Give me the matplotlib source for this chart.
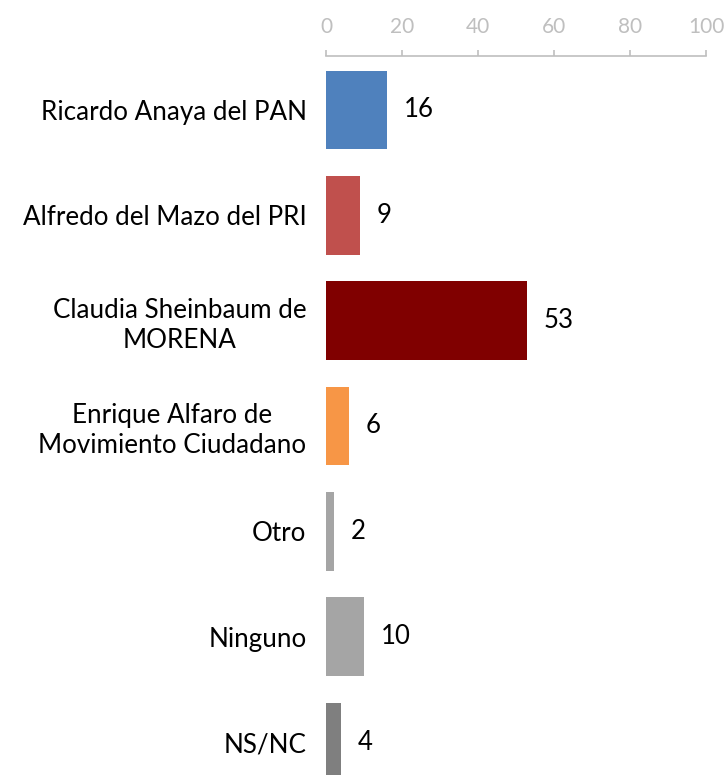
import matplotlib
matplotlib.use("Agg")
import matplotlib.pyplot as plt

categories = ["Ricardo Anaya del PAN", "Alfredo del Mazo del PRI",
              "Claudia Sheinbaum de\nMORENA", "Enrique Alfaro de\nMovimiento Ciudadano",
              "Otro", "Ninguno", "NS/NC"]
values = [16, 9, 53, 6, 2, 10, 4]
colors = ["#4F81BD", "#C0504D", "#800000", "#F79646", "#A5A5A5", "#A5A5A5", "#7F7F7F"]
xticks = [0, 20, 40, 60, 80, 100]

plt.rcParams['font.family'] = ['Lato', 'DejaVu Sans']

fig = plt.figure(figsize=(7.27, 7.75), dpi=100)
W, H = 727, 775
ax = fig.add_axes([326 / W, 0, (706 - 326) / W, (775 - 56) / H])

pos = list(range(len(categories)))
ax.barh(pos, values, height=0.745, color=colors)
ax.set_xlim(0, 100)
ax.set_ylim(6.313, -0.512)

for p, v in zip(pos, values):
    ax.annotate(str(v), (v, p), xytext=(12, 0), textcoords="offset points",
                va="center", ha="left", fontsize=18.5, color="black")

ax.set_yticks(pos)
ax.set_yticklabels(categories, fontsize=18.7, multialignment="center",
                   linespacing=1.25)
ax.tick_params(axis="y", length=0, pad=14)

ax.xaxis.tick_top()
ax.set_xticks(xticks)
ax.set_xticklabels([str(t) for t in xticks], fontsize=15, color="#BFBFBF")
ax.tick_params(axis="x", direction="out", length=4.5, width=1.2, color="#BFBFBF", pad=9)

for s in ["left", "right", "bottom"]:
    ax.spines[s].set_visible(False)
ax.spines["top"].set_color("#BFBFBF")
ax.spines["top"].set_linewidth(1.2)

fig.savefig("out.png", dpi=100)
